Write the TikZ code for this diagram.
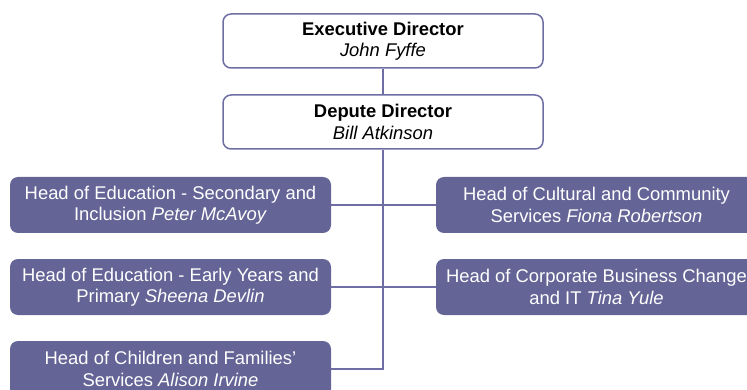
\documentclass[tikz,border=0pt]{standalone}
\usepackage{fontspec}
\setmainfont{Liberation Sans}
\definecolor{orgline}{RGB}{110,110,165}
\definecolor{orgfill}{RGB}{100,100,150}

\begin{document}
\begin{tikzpicture}[x=1pt, y=-1pt,
    topbox/.style={draw=orgline, line width=1.5pt, fill=white, rounded corners=8pt,
        minimum width=320pt, minimum height=54pt, inner sep=0pt, align=center,
        font=\fontsize{18.4}{21.5}\selectfont},
    headbox/.style={fill=orgfill, text=white, rounded corners=8pt,
        minimum width=321pt, minimum height=56pt, inner sep=0pt, align=center,
        font=\fontsize{18.4}{21.5}\selectfont},
    link/.style={draw=orgline, line width=1.5pt}]
    \useasboundingbox (0,0) rectangle (747,390);
    \clip (0,0) rectangle (747,390);

    % Directors
    \node[topbox] (exec) at (383,41) {\textbf{Executive Director}\\\textit{John Fyffe}};
    \node[topbox] (depute) at (383,122) {\textbf{Depute Director}\\\textit{Bill Atkinson}};

    % Heads of service, left column
    \node[headbox] (edsec) at (170.5,205) {Head of Education - Secondary and\\Inclusion \textit{Peter McAvoy}};
    \node[headbox] (edprim) at (170.5,287) {Head of Education - Early Years and\\Primary \textit{Sheena Devlin}};
    \node[headbox] (child) at (170.5,369) {Head of Children and Families'\\Services \textit{Alison Irvine}};

    % Heads of service, right column
    \node[headbox] (cult) at (596.5,205) {Head of Cultural and Community\\Services \textit{Fiona Robertson}};
    \node[headbox] (corp) at (596.5,287) {Head of Corporate Business Change\\and IT \textit{Tina Yule}};

    % Connections
    \draw[link] (exec) -- (depute);
    \draw[link] (depute) |- (child);
    \foreach \n in {edsec,edprim,cult,corp} {
        \draw[link] (\n) -- (\n -| depute);
    }
\end{tikzpicture}
\end{document}
